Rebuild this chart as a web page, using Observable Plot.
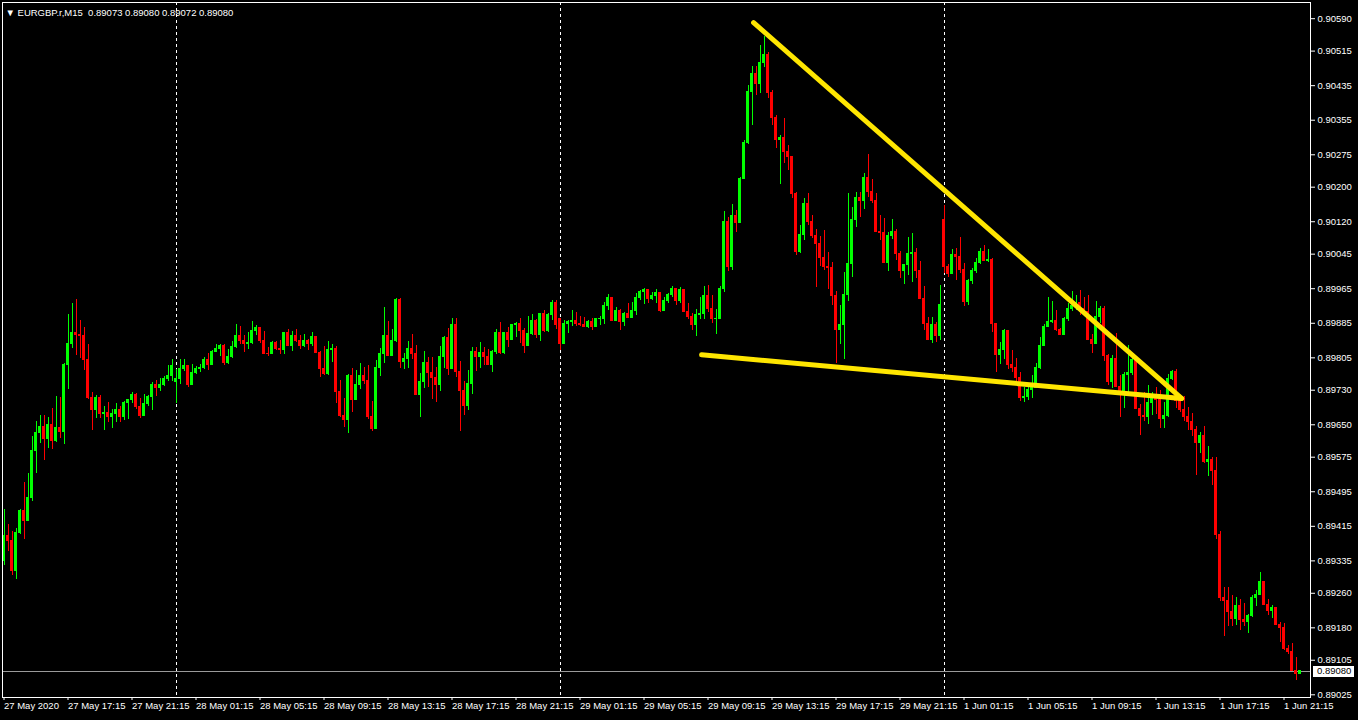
<!DOCTYPE html>
<html><head><meta charset="utf-8">
<script src="https://cdn.jsdelivr.net/npm/d3@7"></script>
<script src="https://cdn.jsdelivr.net/npm/@observablehq/plot@0.6"></script>
<style>
html,body{margin:0;padding:0;background:#000;}
#chart{width:1358px;height:720px;overflow:hidden;}
svg{display:block;}
</style></head><body><div id="chart"></div>
<script>
// EURGBP.r M15 bars, bar 0 = 27 May 2020 13:15, one bar per 15 minutes
const barOpen = [
0.89334,0.89392,0.89380,0.89312,0.89400,0.89451,0.89428,0.89481,0.89590,0.89632,
0.89646,0.89616,0.89650,0.89613,0.89643,0.89634,0.89789,0.89836,0.89863,0.89859,
0.89856,0.89801,0.89711,0.89685,0.89711,0.89674,0.89678,0.89667,0.89674,0.89685,
0.89669,0.89701,0.89708,0.89720,0.89692,0.89671,0.89699,0.89715,0.89741,0.89736,
0.89743,0.89757,0.89764,0.89750,0.89755,0.89780,0.89787,0.89743,0.89771,0.89778,
0.89782,0.89801,0.89789,0.89819,0.89826,0.89833,0.89794,0.89808,0.89829,0.89856,
0.89845,0.89836,0.89840,0.89868,0.89875,0.89845,0.89815,0.89813,0.89840,0.89826,
0.89824,0.89863,0.89833,0.89856,0.89845,0.89833,0.89843,0.89838,0.89854,0.89817,
0.89780,0.89768,0.89822,0.89826,0.89725,0.89671,0.89660,0.89764,0.89708,0.89743,
0.89764,0.89752,0.89669,0.89641,0.89782,0.89815,0.89856,0.89810,0.89845,0.89940,
0.89796,0.89803,0.89826,0.89815,0.89720,0.89748,0.89794,0.89771,0.89759,0.89743,
0.89806,0.89850,0.89780,0.89882,0.89773,0.89729,0.89694,0.89745,0.89819,0.89806,
0.89817,0.89808,0.89789,0.89819,0.89863,0.89817,0.89863,0.89847,0.89880,0.89884,
0.89868,0.89833,0.89861,0.89891,0.89859,0.89907,0.89866,0.89903,0.89933,0.89896,
0.89836,0.89884,0.89889,0.89891,0.89884,0.89882,0.89877,0.89887,0.89877,0.89894,
0.89896,0.89924,0.89944,0.89891,0.89914,0.89889,0.89907,0.89898,0.89914,0.89944,
0.89958,0.89963,0.89942,0.89947,0.89954,0.89914,0.89937,0.89951,0.89965,0.89937,
0.89963,0.89912,0.89900,0.89882,0.89903,0.89907,0.89949,0.89919,0.89894,0.89896,
0.89965,0.90120,0.90016,0.90134,0.90118,0.90220,0.90303,0.90421,0.90463,0.90440,
0.90488,0.90507,0.90417,0.90359,0.90310,0.90313,0.90282,0.90269,0.90185,0.90049,
0.90090,0.90162,0.90120,0.90088,0.90069,0.90037,0.90016,0.90012,0.89949,0.89870,
0.89882,0.89951,0.90023,0.90125,0.90174,0.90167,0.90222,0.90188,0.90169,0.90097,
0.90093,0.90025,0.90088,0.90097,0.90046,0.90005,0.90019,0.90046,0.90048,0.90007,
0.89942,0.89884,0.89847,0.89882,0.89856,0.90125,0.90016,0.90000,0.90042,0.90039,
0.90009,0.89935,0.89984,0.90005,0.90025,0.90049,0.90030,0.90032,0.89884,0.89812,
0.89822,0.89866,0.89789,0.89782,0.89759,0.89711,0.89715,0.89731,0.89736,0.89782,
0.89833,0.89877,0.89889,0.89891,0.89870,0.89859,0.89894,0.89917,0.89926,0.89931,
0.89919,0.89912,0.89847,0.89838,0.89900,0.89917,0.89810,0.89748,0.89803,0.89738,
0.89729,0.89766,0.89771,0.89801,0.89687,0.89671,0.89669,0.89701,0.89711,0.89708,
0.89664,0.89671,0.89755,0.89773,0.89706,0.89685,0.89667,0.89657,0.89639,0.89609,
0.89623,0.89563,0.89569,0.89542,0.89396,0.89248,0.89243,0.89217,0.89201,0.89231,
0.89199,0.89194,0.89208,0.89248,0.89257,0.89285,0.89234,0.89220,0.89227,0.89187,
0.89180,0.89132,0.89125,0.89081,0.89073];
const barHigh = [
0.89454,0.89419,0.89403,0.89410,0.89454,0.89516,0.89537,0.89623,0.89657,0.89671,
0.89671,0.89667,0.89687,0.89715,0.89713,0.89792,0.89905,0.89931,0.89940,0.89891,
0.89875,0.89836,0.89725,0.89718,0.89718,0.89692,0.89701,0.89685,0.89699,0.89692,
0.89704,0.89708,0.89725,0.89722,0.89711,0.89720,0.89718,0.89748,0.89752,0.89757,
0.89762,0.89787,0.89801,0.89778,0.89801,0.89801,0.89787,0.89789,0.89785,0.89789,
0.89806,0.89815,0.89822,0.89836,0.89836,0.89836,0.89824,0.89843,0.89882,0.89877,
0.89856,0.89863,0.89889,0.89880,0.89875,0.89866,0.89829,0.89843,0.89843,0.89845,
0.89863,0.89870,0.89866,0.89870,0.89856,0.89859,0.89847,0.89863,0.89854,0.89819,
0.89831,0.89843,0.89836,0.89831,0.89752,0.89711,0.89766,0.89780,0.89775,0.89792,
0.89782,0.89787,0.89704,0.89799,0.89826,0.89921,0.89889,0.89870,0.89942,0.89942,
0.89815,0.89843,0.89859,0.89833,0.89768,0.89819,0.89806,0.89806,0.89782,0.89831,
0.89854,0.89873,0.89896,0.89896,0.89796,0.89750,0.89775,0.89829,0.89829,0.89840,
0.89829,0.89824,0.89822,0.89870,0.89887,0.89863,0.89875,0.89880,0.89887,0.89896,
0.89873,0.89900,0.89905,0.89894,0.89907,0.89914,0.89907,0.89937,0.89937,0.89896,
0.89891,0.89891,0.89914,0.89910,0.89900,0.89898,0.89891,0.89896,0.89896,0.89900,
0.89933,0.89951,0.89944,0.89921,0.89917,0.89910,0.89931,0.89933,0.89954,0.89961,
0.89965,0.89963,0.89956,0.89963,0.89954,0.89944,0.89954,0.89970,0.89965,0.89968,
0.89963,0.89931,0.89907,0.89917,0.89944,0.89970,0.89972,0.89949,0.89917,0.89970,
0.90144,0.90130,0.90160,0.90146,0.90222,0.90308,0.90435,0.90479,0.90479,0.90528,
0.90549,0.90512,0.90424,0.90366,0.90320,0.90359,0.90296,0.90271,0.90188,0.90111,
0.90174,0.90185,0.90134,0.90102,0.90086,0.90100,0.90049,0.90025,0.89958,0.89926,
0.90002,0.90185,0.90153,0.90188,0.90188,0.90231,0.90275,0.90218,0.90185,0.90134,
0.90127,0.90095,0.90125,0.90102,0.90051,0.90019,0.90083,0.90093,0.90058,0.90028,
0.89970,0.89898,0.89898,0.89887,0.89972,0.90157,0.90021,0.90056,0.90058,0.90083,
0.90023,0.89986,0.90012,0.90035,0.90058,0.90065,0.90056,0.90035,0.89884,0.89840,
0.89870,0.89866,0.89822,0.89803,0.89771,0.89736,0.89741,0.89764,0.89792,0.89852,
0.89882,0.89944,0.89935,0.89914,0.89873,0.89898,0.89931,0.89958,0.89949,0.89961,
0.89944,0.89949,0.89859,0.89935,0.89924,0.89924,0.89812,0.89810,0.89861,0.89764,
0.89771,0.89833,0.89810,0.89803,0.89697,0.89725,0.89741,0.89725,0.89736,0.89729,
0.89701,0.89766,0.89775,0.89778,0.89715,0.89715,0.89690,0.89676,0.89646,0.89632,
0.89646,0.89600,0.89574,0.89574,0.89403,0.89273,0.89273,0.89255,0.89250,0.89245,
0.89236,0.89211,0.89255,0.89266,0.89308,0.89285,0.89245,0.89231,0.89227,0.89192,
0.89190,0.89139,0.89144,0.89111,0.89080];
const barLow = [
0.89324,0.89357,0.89301,0.89292,0.89396,0.89384,0.89428,0.89472,0.89537,0.89606,
0.89567,0.89595,0.89593,0.89609,0.89618,0.89604,0.89731,0.89826,0.89810,0.89803,
0.89775,0.89708,0.89637,0.89664,0.89664,0.89637,0.89655,0.89641,0.89655,0.89655,
0.89660,0.89662,0.89699,0.89685,0.89664,0.89671,0.89692,0.89683,0.89715,0.89727,
0.89738,0.89750,0.89750,0.89699,0.89743,0.89773,0.89736,0.89743,0.89766,0.89771,
0.89778,0.89775,0.89787,0.89817,0.89808,0.89787,0.89789,0.89803,0.89826,0.89836,
0.89817,0.89824,0.89836,0.89856,0.89838,0.89815,0.89808,0.89812,0.89822,0.89812,
0.89812,0.89831,0.89819,0.89840,0.89824,0.89829,0.89822,0.89831,0.89817,0.89759,
0.89764,0.89764,0.89794,0.89699,0.89667,0.89643,0.89630,0.89678,0.89706,0.89731,
0.89743,0.89662,0.89634,0.89639,0.89762,0.89792,0.89808,0.89810,0.89840,0.89780,
0.89778,0.89780,0.89801,0.89720,0.89667,0.89734,0.89736,0.89708,0.89701,0.89727,
0.89780,0.89764,0.89780,0.89759,0.89634,0.89671,0.89683,0.89720,0.89773,0.89780,
0.89787,0.89787,0.89771,0.89812,0.89812,0.89812,0.89829,0.89847,0.89852,0.89838,
0.89815,0.89833,0.89856,0.89850,0.89843,0.89863,0.89863,0.89891,0.89870,0.89822,
0.89836,0.89861,0.89877,0.89877,0.89877,0.89877,0.89873,0.89868,0.89875,0.89880,
0.89882,0.89914,0.89889,0.89891,0.89868,0.89877,0.89896,0.89896,0.89903,0.89937,
0.89928,0.89931,0.89937,0.89931,0.89910,0.89912,0.89931,0.89944,0.89926,0.89931,
0.89910,0.89894,0.89868,0.89854,0.89894,0.89894,0.89910,0.89884,0.89859,0.89896,
0.89956,0.90005,0.90007,0.90095,0.90118,0.90220,0.90299,0.90343,0.90412,0.90417,
0.90477,0.90405,0.90343,0.90289,0.90206,0.90255,0.90238,0.90174,0.90042,0.90046,
0.90076,0.90111,0.90081,0.89968,0.90016,0.90007,0.89963,0.89926,0.89792,0.89836,
0.89801,0.89935,0.89991,0.90106,0.90130,0.90148,0.90176,0.90162,0.90095,0.90076,
0.90023,0.90005,0.90079,0.90030,0.89988,0.89975,0.89995,0.89979,0.89988,0.89940,
0.89868,0.89847,0.89838,0.89840,0.89845,0.90000,0.89991,0.90000,0.89984,0.90000,
0.89924,0.89926,0.89975,0.90000,0.90021,0.90028,0.90025,0.89863,0.89771,0.89789,
0.89801,0.89778,0.89771,0.89748,0.89704,0.89701,0.89706,0.89711,0.89736,0.89778,
0.89831,0.89875,0.89884,0.89866,0.89856,0.89859,0.89889,0.89912,0.89914,0.89903,
0.89910,0.89845,0.89815,0.89838,0.89884,0.89796,0.89741,0.89734,0.89736,0.89667,
0.89687,0.89725,0.89764,0.89685,0.89625,0.89657,0.89650,0.89671,0.89674,0.89641,
0.89641,0.89667,0.89752,0.89687,0.89678,0.89657,0.89637,0.89623,0.89532,0.89583,
0.89560,0.89530,0.89509,0.89384,0.89241,0.89160,0.89183,0.89183,0.89185,0.89174,
0.89183,0.89167,0.89204,0.89229,0.89255,0.89234,0.89208,0.89201,0.89187,0.89146,
0.89127,0.89118,0.89081,0.89058,0.89072];
const barClose = [
0.89392,0.89380,0.89312,0.89400,0.89451,0.89428,0.89481,0.89590,0.89632,0.89646,
0.89616,0.89650,0.89613,0.89643,0.89634,0.89789,0.89836,0.89863,0.89859,0.89856,
0.89801,0.89711,0.89685,0.89711,0.89674,0.89678,0.89667,0.89674,0.89685,0.89669,
0.89701,0.89708,0.89720,0.89692,0.89671,0.89699,0.89715,0.89741,0.89736,0.89743,
0.89757,0.89764,0.89787,0.89755,0.89780,0.89787,0.89743,0.89771,0.89778,0.89782,
0.89801,0.89789,0.89819,0.89826,0.89833,0.89794,0.89808,0.89829,0.89856,0.89845,
0.89836,0.89840,0.89868,0.89875,0.89845,0.89815,0.89813,0.89840,0.89826,0.89824,
0.89863,0.89833,0.89856,0.89845,0.89833,0.89843,0.89838,0.89854,0.89817,0.89780,
0.89768,0.89822,0.89826,0.89725,0.89671,0.89660,0.89764,0.89708,0.89743,0.89764,
0.89752,0.89669,0.89641,0.89782,0.89815,0.89856,0.89810,0.89845,0.89940,0.89796,
0.89803,0.89826,0.89815,0.89720,0.89748,0.89794,0.89771,0.89759,0.89743,0.89806,
0.89850,0.89780,0.89882,0.89773,0.89729,0.89694,0.89745,0.89819,0.89806,0.89817,
0.89808,0.89789,0.89819,0.89863,0.89817,0.89863,0.89847,0.89880,0.89884,0.89868,
0.89833,0.89861,0.89891,0.89859,0.89907,0.89866,0.89903,0.89933,0.89882,0.89836,
0.89884,0.89889,0.89891,0.89884,0.89882,0.89877,0.89887,0.89877,0.89894,0.89896,
0.89924,0.89944,0.89891,0.89914,0.89889,0.89907,0.89898,0.89914,0.89944,0.89958,
0.89963,0.89942,0.89947,0.89954,0.89914,0.89937,0.89951,0.89965,0.89937,0.89963,
0.89912,0.89900,0.89882,0.89903,0.89907,0.89949,0.89919,0.89894,0.89896,0.89965,
0.90120,0.90016,0.90134,0.90118,0.90220,0.90303,0.90421,0.90463,0.90440,0.90488,
0.90507,0.90417,0.90359,0.90310,0.90313,0.90282,0.90269,0.90185,0.90049,0.90090,
0.90162,0.90120,0.90088,0.90069,0.90037,0.90016,0.90012,0.89949,0.89870,0.89882,
0.89951,0.90023,0.90125,0.90174,0.90167,0.90222,0.90188,0.90169,0.90097,0.90093,
0.90025,0.90088,0.90097,0.90046,0.90005,0.90019,0.90046,0.90048,0.90007,0.89942,
0.89884,0.89847,0.89882,0.89856,0.89928,0.90016,0.90000,0.90042,0.90039,0.90009,
0.89935,0.89984,0.90005,0.90025,0.90049,0.90030,0.90032,0.89884,0.89812,0.89822,
0.89866,0.89789,0.89782,0.89759,0.89711,0.89715,0.89731,0.89736,0.89782,0.89833,
0.89877,0.89889,0.89891,0.89870,0.89859,0.89894,0.89917,0.89926,0.89931,0.89919,
0.89912,0.89847,0.89838,0.89900,0.89917,0.89810,0.89748,0.89803,0.89738,0.89729,
0.89766,0.89771,0.89801,0.89687,0.89671,0.89669,0.89701,0.89711,0.89708,0.89664,
0.89671,0.89755,0.89773,0.89706,0.89685,0.89667,0.89657,0.89639,0.89609,0.89623,
0.89563,0.89569,0.89542,0.89396,0.89248,0.89243,0.89217,0.89201,0.89231,0.89199,
0.89194,0.89208,0.89248,0.89257,0.89285,0.89234,0.89220,0.89227,0.89187,0.89180,
0.89132,0.89125,0.89081,0.89073,0.89080];

// bar indices where a new trading day starts (28 May, 29 May, 1 Jun 00:00)
const daySeparators = [43, 139, 235];
// time axis labels and the bar each one sits on
const xTickBars = [0,16,32,48,64,80,96,112,128,144,160,176,192,208,224,240,256,272,288,304,320];
const xTickLabels = ["27 May 2020","27 May 17:15","27 May 21:15","28 May 01:15","28 May 05:15",
  "28 May 09:15","28 May 13:15","28 May 17:15","28 May 21:15","29 May 01:15","29 May 05:15",
  "29 May 09:15","29 May 13:15","29 May 17:15","29 May 21:15","1 Jun 01:15","1 Jun 05:15",
  "1 Jun 09:15","1 Jun 13:15","1 Jun 17:15","1 Jun 21:15"];
// price axis labels
const yTicks = [0.90590,0.90515,0.90435,0.90355,0.90275,0.90200,0.90120,0.90045,0.89965,0.89885,
  0.89805,0.89730,0.89650,0.89575,0.89495,0.89415,0.89335,0.89260,0.89180,0.89105,0.89025];
// hand-drawn trend lines (bar index, price)
const trendUpperBar = [187.4, 294.4];
const trendUpperPrice = [0.90581, 0.89711];
const trendLowerBar = [174.4, 294.4];
const trendLowerPrice = [0.89812, 0.89711];
const headerText = "EURGBP.r,M15  0.89073 0.89080 0.89072 0.89080";
const lastPrice = 0.89080;

const bars = barClose.map((c, i) => ({i, o: barOpen[i], h: barHigh[i], l: barLow[i], c}));
const upBars = bars.filter(d => d.c >= d.o);
const downBars = bars.filter(d => d.c < d.o);
const upper = trendUpperBar.map((b, k) => ({b, p: trendUpperPrice[k]}));
const lower = trendLowerBar.map((b, k) => ({b, p: trendLowerPrice[k]}));
const labelOf = new Map(xTickBars.map((b, k) => [b, xTickLabels[k]]));

const GREEN = "#00ff00", RED = "#ff0000", YELLOW = "#ffe600";
const font = "'Liberation Sans', Arial, sans-serif";

function candles(data, color) {
  return [
    Plot.ruleX(data, {x: "i", y1: "l", y2: "h", stroke: color, strokeWidth: 1, shapeRendering: "crispEdges"}),
    Plot.rect(data, {x1: d => d.i - 0.375, x2: d => d.i + 0.375, y1: "o", y2: "c", fill: color,
      insetTop: -0.5, insetBottom: -0.5, shapeRendering: "crispEdges"})
  ];
}

const chart = Plot.plot({
  width: 1358, height: 720,
  marginLeft: 2, marginRight: 48, marginTop: 2, marginBottom: 23,
  style: {background: "#000", color: "#fff", fontFamily: font, fontSize: "9px"},
  x: {type: "linear", domain: [-0.375, 326.625]},
  y: {domain: [0.8901875, 0.906275]},
  marks: [
    Plot.ruleX(daySeparators, {stroke: "#ffffff", strokeDasharray: "3,3", strokeWidth: 1, shapeRendering: "crispEdges"}),
    Plot.ruleY([lastPrice], {stroke: "#9a9a9a", strokeWidth: 1, shapeRendering: "crispEdges"}),
    ...candles(upBars, GREEN),
    ...candles(downBars, RED),
    Plot.line(upper, {x: "b", y: "p", stroke: YELLOW, strokeWidth: 5, strokeLinecap: "round"}),
    Plot.line(lower, {x: "b", y: "p", stroke: YELLOW, strokeWidth: 5, strokeLinecap: "round"}),
    Plot.frame({stroke: "#ffffff", shapeRendering: "crispEdges"}),
    Plot.axisY(yTicks, {anchor: "right", label: null, tickSize: 4, tickPadding: 3,
      tickFormat: d => d.toFixed(5), fill: "#fff", stroke: "#fff", fontSize: 9.5}),
    Plot.axisX(xTickBars, {anchor: "bottom", label: null, tickSize: 3, tickPadding: 2,
      tickFormat: d => labelOf.get(d), textAnchor: "start", dx: 0, fill: "#fff", stroke: "#fff", fontSize: 9.5}),
    Plot.text([headerText], {frameAnchor: "top-left", text: d => "\u25BC " + d, dx: 3, dy: 10,
      textAnchor: "start", lineAnchor: "middle", fill: "#fff", fontSize: 9.5})
  ]
});

// current-price box on the price axis, placed with the chart's own y scale
const ys = chart.scale("y").apply(lastPrice);
const svg = d3.select(chart);
const g = svg.append("g");
g.append("rect").attr("x", 1313).attr("y", Math.round(ys) - 5.5).attr("width", 41).attr("height", 11)
  .attr("fill", "#fff").attr("shape-rendering", "crispEdges");
g.append("text").attr("x", 1317).attr("y", ys).attr("dy", "0.35em").attr("fill", "#000")
  .attr("text-anchor", "start")
  .attr("font-family", font).attr("font-size", 9.5).text(lastPrice.toFixed(5));

document.getElementById("chart").appendChild(chart);
</script></body></html>
